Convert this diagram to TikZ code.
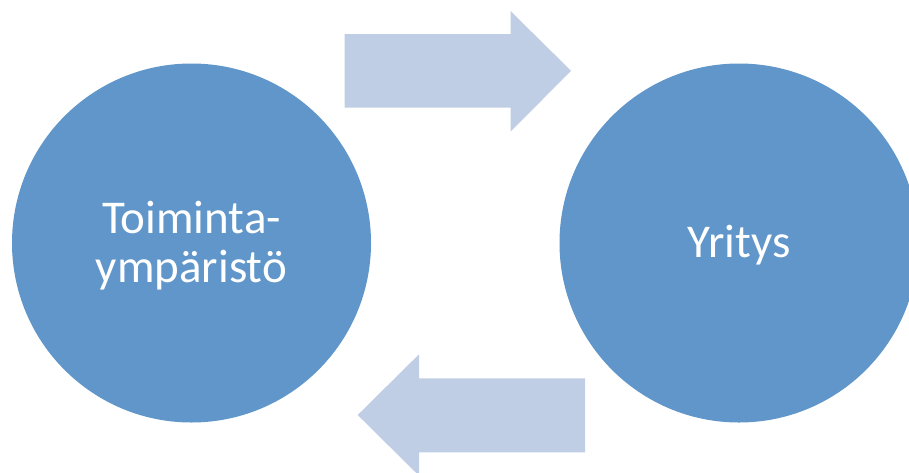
\documentclass[tikz,border=0pt]{standalone}
\usepackage{fontspec}
\setmainfont{Carlito}
\definecolor{circblue}{HTML}{6096C9}
\definecolor{arrowblue}{HTML}{BFCEE4}
\begin{document}
\begin{tikzpicture}[x=1pt,y=-1pt,
  bigcirc/.style={circle,fill=circblue,draw=none,minimum size=359pt,inner sep=0pt},
  lbl/.style={text=white,inner sep=0pt,anchor=base,font=\fontsize{47}{49}\selectfont},
  arrowshape/.style={fill=arrowblue,draw=none}]
\useasboundingbox (0,0) rectangle (909,472);
\begin{scope}
\clip (0,0) rectangle (909,472);
\node[bigcirc] (env) at (191.5,243) {};
\node[bigcirc] (firm) at (739,243) {};
\fill[arrowshape] (344.5,34) -- (510.5,34) -- (510.5,11) -- (571,70.8) -- (510.5,131.7) -- (510.5,107.7) -- (344.5,107.7) -- cycle;
\fill[arrowshape] (585,378.3) -- (419,378.3) -- (419,354.3) -- (357.7,415) -- (419,475.7) -- (419,452.3) -- (585,452.3) -- cycle;
\end{scope}
\node[lbl] (envtext1) at ([yshift=9.7pt]env.center) {Toiminta-};
\node[lbl] (envtext2) at ([yshift=-39.3pt]env.center) {ympäristö};
\node[lbl] (firmtext) at ([yshift=-14.3pt]firm.center) {Yritys};
\end{tikzpicture}
\end{document}
